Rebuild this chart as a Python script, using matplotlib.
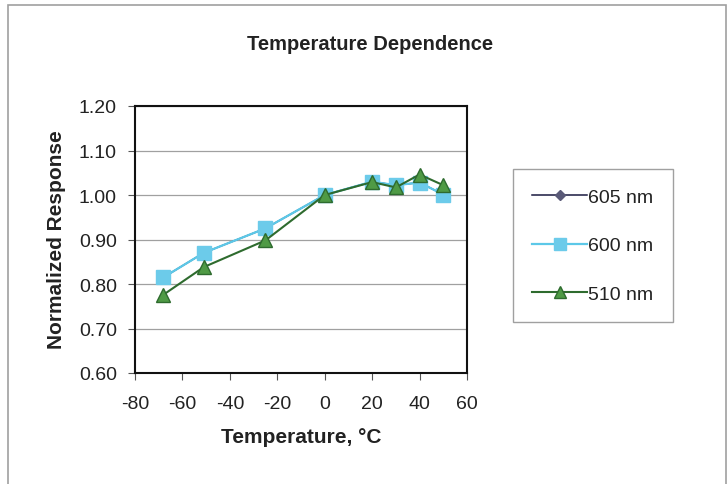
import matplotlib
matplotlib.use('Agg')
import matplotlib.pyplot as plt
from matplotlib.patches import Rectangle

plt.rcParams['font.family'] = ['Liberation Sans', 'DejaVu Sans']
plt.rcParams['axes.unicode_minus'] = False

# data (605 nm is hidden under the 600 nm series)
temps = [-68, -51, -25, 0, 20, 30, 40, 50]
resp_605 = [0.815, 0.870, 0.925, 1.000, 1.030, 1.022, 1.028, 1.001]
resp_600 = [0.815, 0.870, 0.925, 1.000, 1.030, 1.022, 1.028, 1.001]
resp_510 = [0.776, 0.838, 0.898, 1.000, 1.029, 1.017, 1.046, 1.022]
labels = ['605 nm', '600 nm', '510 nm']

W, H = 727, 485
fig = plt.figure(figsize=(W / 100, H / 100), dpi=100)

# outer chart frame
fig.patches.append(Rectangle((8 / W, -0.05), 718 / W, 1.05 - 6 / H,
                             transform=fig.transFigure, fill=False,
                             edgecolor='#a0a0a0', linewidth=1.2))

ax = fig.add_axes([135 / W, 1 - 374 / H, (467 - 135) / W, (374 - 107) / H])

ax.plot(temps, resp_605, color='#1a1a40', marker='D', markersize=6,
        markerfacecolor='#5a5a78', markeredgecolor='#5a5a78', lw=1.1, label=labels[0])
ax.plot(temps, resp_600, color='#5cc8e8', marker='s', markersize=10,
        markerfacecolor='#6ccbea', markeredgecolor='#6ccbea', lw=1.6, label=labels[1])
ax.plot(temps, resp_510, color='#2e6b2e', marker='^', markersize=10,
        markerfacecolor='#4f9a45', markeredgecolor='#2e6b2e', lw=1.5, label=labels[2])

ax.set_xlim(-80, 60)
ax.set_ylim(0.6, 1.2)
ax.set_xticks(range(-80, 61, 20))
ax.set_yticks([0.6 + 0.1 * i for i in range(7)])
ax.set_yticklabels(['%.2f' % (0.6 + 0.1 * i) for i in range(7)])
ax.tick_params(labelsize=14, direction='out', length=5, color='#555555',
               labelcolor='#222222')
ax.tick_params(axis='x', pad=11)
ax.tick_params(axis='y', pad=8)
ax.grid(axis='y', color='#a0a0a0', lw=0.9)
ax.set_axisbelow(True)
for s in ax.spines.values():
    s.set_linewidth(1.5)
    s.set_color('#111111')

fig.text(301 / W, 1 - 438 / H, 'Temperature, °C', fontsize=15,
         fontweight='bold', ha='center', va='center', color='#222222')
fig.text(56 / W, 1 - 240 / H, 'Normalized Response', fontsize=15, rotation=90,
         fontweight='bold', ha='center', va='center', color='#222222')
fig.text(370 / W, 1 - 45 / H, 'Temperature Dependence', fontsize=14.5,
         fontweight='bold', ha='center', va='center', color='#222222')

leg = ax.legend(loc='center left',
                bbox_to_anchor=(513 / W, 1 - 323 / H, 160 / W, 153 / H),
                bbox_transform=fig.transFigure, mode='expand', fontsize=14,
                frameon=True, fancybox=False, edgecolor='#888888',
                labelspacing=1.6, handlelength=2.8, handletextpad=0.05,
                borderpad=1.0, borderaxespad=0, markerscale=0.85)
leg.get_frame().set_linewidth(1.0)
for t in leg.get_texts():
    t.set_color('#222222')

fig.savefig('out.png', dpi=100)
